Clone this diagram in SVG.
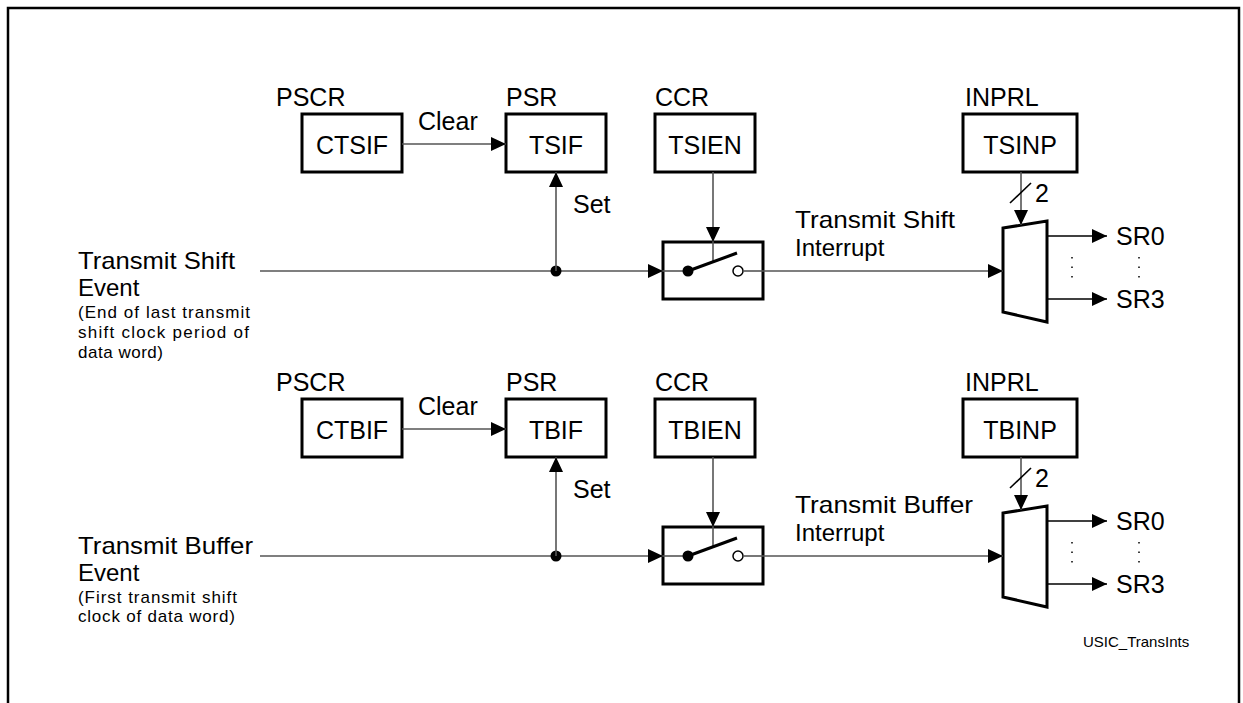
<svg xmlns="http://www.w3.org/2000/svg" width="1243" height="703" viewBox="0 0 1243 703">
<defs>
<style>
text{font-family:"Liberation Sans",Arial,sans-serif;fill:#000}
.big{font-size:25px}
.lbl{font-size:24px}
.small{font-size:17px}
.foot{font-size:15px}
.box{fill:#fff;stroke:#000;stroke-width:3}
.ln{fill:none;stroke:#555;stroke-width:1.6}
.lnk{fill:none;stroke:#000;stroke-width:1.6}
.dot{fill:none;stroke:#000;stroke-width:1.5;stroke-dasharray:1.5 8}
</style>
<marker id="ah" markerUnits="userSpaceOnUse" markerWidth="16" markerHeight="14" refX="15" refY="7" orient="auto">
<path d="M0,0 L15,7 L0,14 z" fill="#000"/>
</marker>
</defs>
<rect x="8" y="8" width="1231" height="730" fill="none" stroke="#000" stroke-width="2.5"/>

<!-- Row 1 -->
<g id="row1">
<g id="in-ts">
<text class="lbl" x="78" y="269" textLength="157" lengthAdjust="spacingAndGlyphs">Transmit Shift</text>
<text class="lbl" x="78" y="296">Event</text>
<text class="small" x="78" y="318" textLength="172" lengthAdjust="spacing">(End of last transmit</text>
<text class="small" x="78" y="338" textLength="171" lengthAdjust="spacing">shift clock period of</text>
<text class="small" x="78" y="358" textLength="85" lengthAdjust="spacing">data word)</text>
</g>
<g id="ctsif"><text class="big" x="276" y="106">PSCR</text><rect class="box" x="302" y="114" width="100" height="58"/><text class="big" x="352" y="154" text-anchor="middle">CTSIF</text></g>
<g id="tsif"><text class="big" x="506" y="106">PSR</text><rect class="box" x="506" y="114" width="100" height="58"/><text class="big" x="556" y="154" text-anchor="middle">TSIF</text></g>
<g id="tsien"><text class="big" x="655" y="106">CCR</text><rect class="box" x="655" y="114" width="100" height="58"/><text class="big" x="705" y="154" text-anchor="middle">TSIEN</text></g>
<g id="tsinp"><text class="big" x="965" y="106">INPRL</text><rect class="box" x="963" y="114" width="114" height="58"/><text class="big" x="1020" y="154" text-anchor="middle">TSINP</text></g>
<g id="sw1"><rect class="box" x="663" y="242" width="100" height="57"/>
<line class="ln" x1="663" y1="271" x2="688" y2="271"/><line class="ln" x1="713" y1="242" x2="713" y2="262"/>
<circle cx="688" cy="271" r="5.5" fill="#000"/><line x1="688" y1="271" x2="737" y2="253" stroke="#000" stroke-width="3"/>
<circle cx="738" cy="271" r="5" fill="#fff" stroke="#000" stroke-width="1.5"/><line class="ln" x1="743" y1="271" x2="763" y2="271"/></g>
<g id="mux1"><polygon class="box" points="1003,228 1047,221 1047,322 1003,312"/></g>
<g id="out1"><text class="big" x="1116" y="245">SR0</text><text class="big" x="1116" y="308">SR3</text></g>
<g id="conn1">
<line class="ln" x1="402" y1="144" x2="506" y2="144" marker-end="url(#ah)"/>
<text class="big" x="418" y="130">Clear</text>
<line class="ln" x1="260" y1="271" x2="663" y2="271" marker-end="url(#ah)"/>
<circle cx="556" cy="271" r="5.5" fill="#000"/>
<line class="ln" x1="556" y1="271" x2="556" y2="172" marker-end="url(#ah)"/>
<text class="big" x="573" y="213">Set</text>
<line class="ln" x1="713" y1="172" x2="713" y2="242" marker-end="url(#ah)"/>
<line class="ln" x1="763" y1="271" x2="1003" y2="271" marker-end="url(#ah)"/>
<text class="lbl" x="795" y="228" textLength="160" lengthAdjust="spacingAndGlyphs">Transmit Shift</text>
<text class="lbl" x="795" y="256">Interrupt</text>
<line class="ln" x1="1021" y1="172" x2="1021" y2="225" marker-end="url(#ah)"/>
<line class="lnk" x1="1010" y1="203" x2="1031" y2="183"/>
<text class="big" x="1035" y="202">2</text>
<line class="lnk" x1="1047" y1="236" x2="1107" y2="236" marker-end="url(#ah)"/>
<line class="lnk" x1="1047" y1="299" x2="1107" y2="299" marker-end="url(#ah)"/>
<line class="dot" x1="1072" y1="257" x2="1072" y2="280"/>
<line class="dot" x1="1139" y1="257" x2="1139" y2="280"/>
</g>
</g>

<!-- Row 2 -->
<g id="row2">
<g id="in-tb">
<text class="lbl" x="78" y="554" textLength="175" lengthAdjust="spacingAndGlyphs">Transmit Buffer</text>
<text class="lbl" x="78" y="581">Event</text>
<text class="small" x="78" y="603" textLength="159" lengthAdjust="spacing">(First transmit shift</text>
<text class="small" x="78" y="622" textLength="157" lengthAdjust="spacing">clock of data word)</text>
</g>
<g id="ctbif"><text class="big" x="276" y="391">PSCR</text><rect class="box" x="302" y="399" width="100" height="58"/><text class="big" x="352" y="439" text-anchor="middle">CTBIF</text></g>
<g id="tbif"><text class="big" x="506" y="391">PSR</text><rect class="box" x="506" y="399" width="100" height="58"/><text class="big" x="556" y="439" text-anchor="middle">TBIF</text></g>
<g id="tbien"><text class="big" x="655" y="391">CCR</text><rect class="box" x="655" y="399" width="100" height="58"/><text class="big" x="705" y="439" text-anchor="middle">TBIEN</text></g>
<g id="tbinp"><text class="big" x="965" y="391">INPRL</text><rect class="box" x="963" y="399" width="114" height="58"/><text class="big" x="1020" y="439" text-anchor="middle">TBINP</text></g>
<g id="sw2"><rect class="box" x="663" y="527" width="100" height="57"/>
<line class="ln" x1="663" y1="556" x2="688" y2="556"/><line class="ln" x1="713" y1="527" x2="713" y2="547"/>
<circle cx="688" cy="556" r="5.5" fill="#000"/><line x1="688" y1="556" x2="737" y2="538" stroke="#000" stroke-width="3"/>
<circle cx="738" cy="556" r="5" fill="#fff" stroke="#000" stroke-width="1.5"/><line class="ln" x1="743" y1="556" x2="763" y2="556"/></g>
<g id="mux2"><polygon class="box" points="1003,513 1047,506 1047,607 1003,597"/></g>
<g id="out2"><text class="big" x="1116" y="530">SR0</text><text class="big" x="1116" y="593">SR3</text></g>
<g id="conn2">
<line class="ln" x1="402" y1="429" x2="506" y2="429" marker-end="url(#ah)"/>
<text class="big" x="418" y="415">Clear</text>
<line class="ln" x1="260" y1="556" x2="663" y2="556" marker-end="url(#ah)"/>
<circle cx="556" cy="556" r="5.5" fill="#000"/>
<line class="ln" x1="556" y1="556" x2="556" y2="457" marker-end="url(#ah)"/>
<text class="big" x="573" y="498">Set</text>
<line class="ln" x1="713" y1="457" x2="713" y2="527" marker-end="url(#ah)"/>
<line class="ln" x1="763" y1="556" x2="1003" y2="556" marker-end="url(#ah)"/>
<text class="lbl" x="795" y="513" textLength="178" lengthAdjust="spacingAndGlyphs">Transmit Buffer</text>
<text class="lbl" x="795" y="541">Interrupt</text>
<line class="ln" x1="1021" y1="457" x2="1021" y2="510" marker-end="url(#ah)"/>
<line class="lnk" x1="1010" y1="488" x2="1031" y2="468"/>
<text class="big" x="1035" y="487">2</text>
<line class="lnk" x1="1047" y1="521" x2="1107" y2="521" marker-end="url(#ah)"/>
<line class="lnk" x1="1047" y1="584" x2="1107" y2="584" marker-end="url(#ah)"/>
<line class="dot" x1="1072" y1="542" x2="1072" y2="565"/>
<line class="dot" x1="1139" y1="542" x2="1139" y2="565"/>
</g>
</g>
<text class="foot" x="1083" y="647">USIC_TransInts</text>
</svg>
